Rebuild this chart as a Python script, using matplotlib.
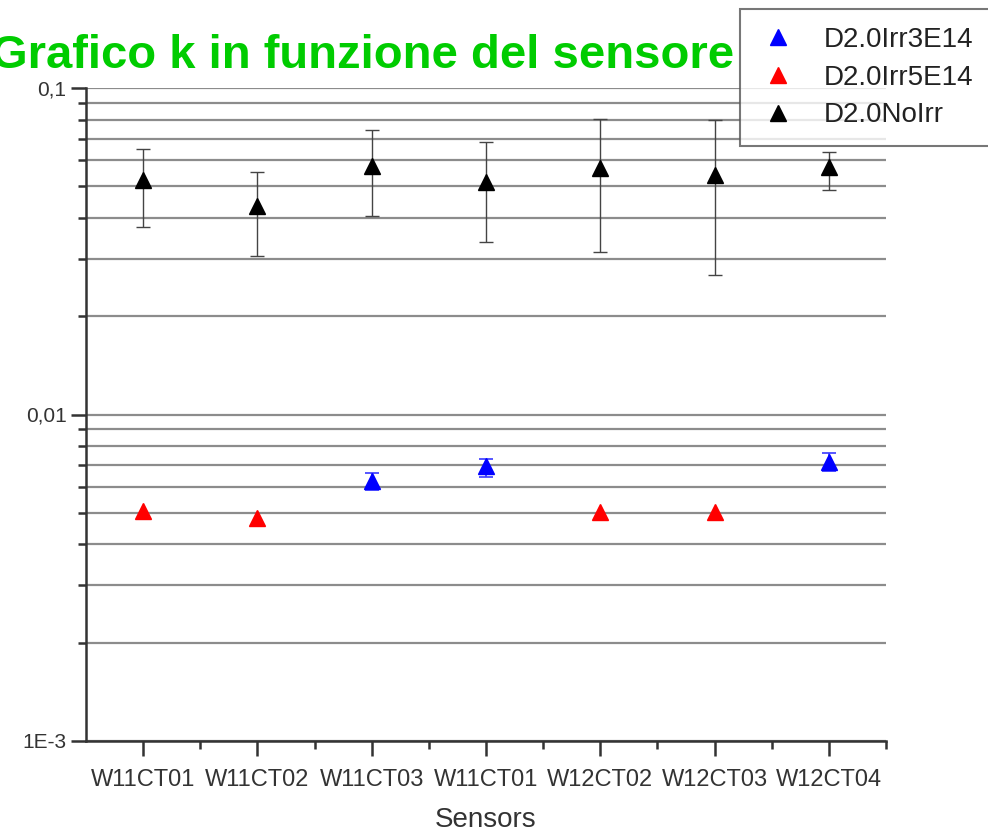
import matplotlib
matplotlib.use('Agg')
import matplotlib.pyplot as plt
from matplotlib.ticker import LogLocator, NullFormatter, FixedLocator, FixedFormatter
from matplotlib.lines import Line2D
import numpy as np

plt.rcParams['font.family'] = ['Liberation Sans', 'DejaVu Sans']

# sensors along x (note: label W11CT01 appears twice in the original)
sensors = ['W11CT01', 'W11CT02', 'W11CT03', 'W11CT01', 'W12CT02', 'W12CT03', 'W12CT04']

# D2.0NoIrr (black), all sensors
noirr_idx = [0, 1, 2, 3, 4, 5, 6]
noirr_k = [0.0523, 0.0435, 0.0575, 0.0515, 0.0570, 0.0542, 0.0572]
noirr_lo = [0.0375, 0.0305, 0.0405, 0.0337, 0.0315, 0.0267, 0.0488]
noirr_hi = [0.0650, 0.0553, 0.0743, 0.0684, 0.0804, 0.0798, 0.0637]

# D2.0Irr3E14 (blue)
irr3_idx = [2, 3, 6]
irr3_k = [0.00625, 0.00695, 0.00716]
irr3_lo = [0.00586, 0.00644, 0.00670]
irr3_hi = [0.00664, 0.00733, 0.00760]

# D2.0Irr5E14 (red), no error bars visible
irr5_idx = [0, 1, 4, 5]
irr5_k = [0.00506, 0.00483, 0.00503, 0.00503]

ytick_vals = [0.001, 0.01, 0.1]
ytick_labels = ['1E-3', '0,01', '0,1']

fig = plt.figure(figsize=(9.88, 8.32), dpi=100)
ax = fig.add_axes([86/988, 1-741/832, 800/988, (741-88)/832])

pos = np.arange(1, len(sensors) + 1)

def errs(idx, k, lo, hi):
    k = np.array(k); lo = np.array(lo); hi = np.array(hi)
    return pos[idx], k, [k - lo, hi - k]

x, y, e = errs(irr3_idx, irr3_k, irr3_lo, irr3_hi)
ax.errorbar(x, y, yerr=e, fmt='^', color='#0000ff', ms=11, mec='#0000ff',
            ecolor='#3a3aff', elinewidth=1.2, capsize=5, capthick=1.2, zorder=4)
ax.plot(pos[irr5_idx], irr5_k, '^', color='#ff0000', ms=11, zorder=4)
x, y, e = errs(noirr_idx, noirr_k, noirr_lo, noirr_hi)
ax.errorbar(x, y, yerr=e, fmt='^', color='black', ms=11, ecolor='#444444',
            elinewidth=1.0, capsize=5, capthick=1.0, zorder=4)

ax.set_yscale('log')
ax.set_ylim(0.001, 0.1)
ax.set_xlim(0.5, len(sensors) + 0.5)

ax.yaxis.set_major_locator(FixedLocator(ytick_vals))
ax.yaxis.set_major_formatter(FixedFormatter(ytick_labels))
ax.yaxis.set_minor_locator(LogLocator(base=10, subs=np.arange(2, 10)))
ax.yaxis.set_minor_formatter(NullFormatter())

ax.set_xticks(pos)
ax.set_xticklabels(sensors)
ax.set_xticks(list(pos[:-1] + 0.5) + [len(sensors) + 0.5], minor=True)

ax.grid(axis='y', which='both', color='#8c8c8c', lw=1.6)
ax.set_axisbelow(True)
# no grid line on the 0,1 border
for t in ax.yaxis.get_major_ticks():
    if t.get_loc() >= 0.1:
        t.gridline.set_visible(False)

for s in ['top', 'right']:
    ax.spines[s].set_visible(False)
for s in ['left', 'bottom']:
    ax.spines[s].set_color('#333333')
    ax.spines[s].set_linewidth(1.8)

ax.tick_params(axis='both', which='major', direction='out', length=11, width=1.8,
               color='#333333', labelcolor='#333333')
ax.tick_params(axis='both', which='minor', direction='out', length=6, width=1.8,
               color='#333333')
ax.tick_params(axis='x', labelsize=17, pad=9)
ax.tick_params(axis='y', labelsize=15, pad=3)

ax.set_xlabel('Sensors', fontsize=20, color='#333333', labelpad=12)

fig.text(-0.009, 1-68/832, 'Grafico k in funzione del sensore', fontsize=34,
         fontweight='bold', color='#00cc00', va='baseline', ha='left')

handles = [Line2D([], [], ls='none', marker='^', ms=11, color='#0000ff'),
           Line2D([], [], ls='none', marker='^', ms=11, color='#ff0000'),
           Line2D([], [], ls='none', marker='^', ms=11, color='black')]
labels = ['D2.0Irr3E14', 'D2.0Irr5E14', 'D2.0NoIrr']
leg = fig.legend(handles, labels, loc='upper left', mode='expand',
                 bbox_to_anchor=(740/988, 1-146/832, 300/988, 137/832),
                 fontsize=20, frameon=True, fancybox=False, handlelength=1.45,
                 handletextpad=0.9, borderpad=0.65, labelspacing=0.42,
                 borderaxespad=0)
leg.get_frame().set_edgecolor('#555555')
leg.get_frame().set_linewidth(1.5)
for t in leg.get_texts():
    t.set_color('#222222')

fig.savefig('out.png', dpi=100)
